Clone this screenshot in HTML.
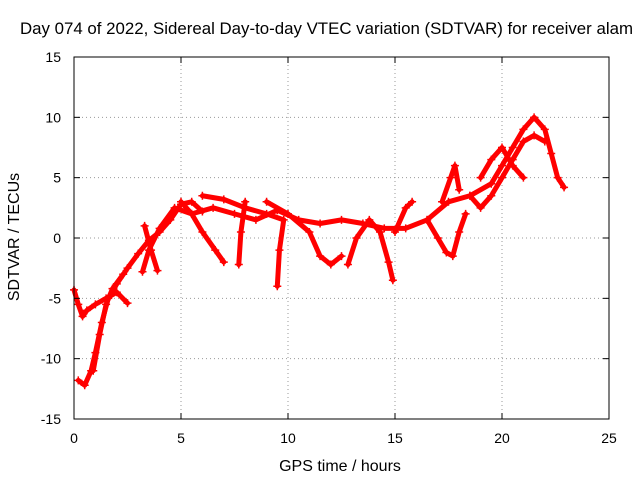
<!DOCTYPE html>
<html><head><meta charset="utf-8"><style>
body{margin:0;background:#fff}
svg{display:block;font-family:"Liberation Sans",sans-serif}
</style></head><body>
<svg id="chart" width="640" height="480">
<rect width="640" height="480" fill="#fff"/>
<text x="20" y="34" font-size="16.5" fill="#000" textLength="613" lengthAdjust="spacingAndGlyphs">Day 074 of 2022, Sidereal Day-to-day VTEC variation (SDTVAR) for receiver alam</text>
<g id="grid"></g>
<g id="marks"></g>
<rect x="74" y="57" width="535" height="362" fill="none" stroke="#000" stroke-width="1"/>
<g id="ticks"></g>
<text x="340" y="471" font-size="16" text-anchor="middle">GPS time / hours</text>
<text transform="translate(19,237) rotate(-90)" font-size="16" text-anchor="middle">SDTVAR / TECUs</text>
</svg>
<script>
const xTicks=[0,5,10,15,20,25];
const yTicks=[-15,-10,-5,0,5,10,15];
const arcA=[[0,-4.3],[0.2,-5.5],[0.4,-6.5],[0.6,-6],[1,-5.5],[1.5,-5],[2,-4.5],[2.5,-5.4]];
const arcB=[[0.2,-11.8],[0.5,-12.2],[0.8,-11],[1,-9.5],[1.3,-7],[1.6,-5],[2,-3.8],[2.5,-2.5],[3,-1.3],[3.5,-0.2],[4,0.5],[4.5,1.5],[5,2.8],[5.5,3],[6,2.2]];
const arcC=[[0.9,-11],[1.2,-8],[1.5,-5.5],[1.8,-4.2],[2.3,-3]];
const arcD=[[3.2,-2.8],[3.5,-1],[4,0.8],[4.7,2.5],[5.5,2],[6.5,2.5],[7.5,2],[8.5,1.5],[9.5,2.3],[10.5,1.5],[11.5,1.2],[12.5,1.5],[13.5,1.2],[14.5,0.8],[15.5,0.8],[16.5,1.5],[17.5,3],[18.5,3.5],[19.5,4.5],[20,6],[20.5,7.5],[21,9],[21.5,10],[22,9],[22.3,7],[22.6,5],[22.9,4.2]];
const arcE=[[3.3,1],[3.6,-1],[3.9,-2.7]];
const arcF=[[5,3],[5.5,2],[6,0.5],[6.6,-1],[7,-2]];
const arcG=[[8,3],[7.8,0.5],[7.7,-2.2]];
const arcH=[[6,3.5],[7,3.2],[8,2.5],[9,2],[9.8,1.5],[9.6,-1],[9.5,-4]];
const arcI=[[9,3],[10,2],[11,0.5],[11.5,-1.5],[12,-2.2],[12.5,-1.5]];
const arcJ=[[12.8,-2.2],[13.2,0],[13.8,1.5],[14.3,0.5],[14.7,-2],[14.9,-3.5]];
const arcK=[[15,0.5],[15.5,2.5],[15.8,3]];
const arcL=[[16.5,1.5],[17,0],[17.4,-1.2],[17.7,-1.5],[18,0.5],[18.3,2]];
const arcM=[[17.2,3],[17.6,5],[17.8,6],[18,4]];
const arcN=[[18.5,3.5],[19,2.5],[19.5,3.5],[20,5],[20.5,6.5],[21,8],[21.5,8.5],[22,8]];
const arcO=[[19,5],[19.5,6.5],[20,7.5],[20.5,6],[21,5]];
const arcs=[arcA,arcB,arcC,arcD,arcE,arcF,arcG,arcH,arcI,arcJ,arcK,arcL,arcM,arcN,arcO];
const NS="http://www.w3.org/2000/svg";
const X0=74,X1=609,Y0=419,Y1=57;
const xs=t=>X0+(t-0)/(25-0)*(X1-X0);
const ys=v=>Y0-(v+15)/30*(Y0-Y1);
const grid=document.getElementById('grid'),ticks=document.getElementById('ticks'),marks=document.getElementById('marks');
function mk(tag,attrs,parent){const e=document.createElementNS(NS,tag);for(const k in attrs)e.setAttribute(k,attrs[k]);parent.appendChild(e);return e;}
xTicks.forEach(t=>{const x=xs(t);
 if(t>0&&t<25){const g=mk('line',{x1:x,x2:x,y1:Y1,y2:Y0,stroke:'#999','stroke-dasharray':'1,3'},grid);
 
 }
 mk('line',{x1:x,x2:x,y1:Y0,y2:Y0-6,stroke:'#000'},ticks);mk('line',{x1:x,x2:x,y1:Y1,y2:Y1+6,stroke:'#000'},ticks);
 const l=mk('text',{x:x,y:Y0+24,'font-size':14,'text-anchor':'middle'},ticks);l.textContent=t;
 
 });
yTicks.forEach(v=>{const y=ys(v);
 if(v>-15&&v<15){const g=mk('line',{x1:X0,x2:X1,y1:y,y2:y,stroke:'#999','stroke-dasharray':'1,3'},grid);
 
 }
 mk('line',{x1:X0,x2:X0+6,y1:y,y2:y,stroke:'#000'},ticks);mk('line',{x1:X1,x2:X1-6,y1:y,y2:y,stroke:'#000'},ticks);
 const l=mk('text',{x:X0-13,y:y+5,'font-size':14,'text-anchor':'end'},ticks);l.textContent=v;
 
 });
arcs.forEach((arc,i)=>{
 const p=mk('polyline',{points:arc.map(d=>xs(d[0])+','+ys(d[1])).join(' '),fill:'none',stroke:'#ff0000','stroke-width':5,'stroke-linejoin':'round','stroke-linecap':'round'},marks);
 
 
 arc.forEach(d=>{const x=xs(d[0]),y=ys(d[1]);
  const m=mk('path',{d:`M${x-4},${y}H${x+4}M${x},${y-4}V${y+4}`,stroke:'#ff0000','stroke-width':1.5},marks);
  
  });
});
</script>
</body></html>
